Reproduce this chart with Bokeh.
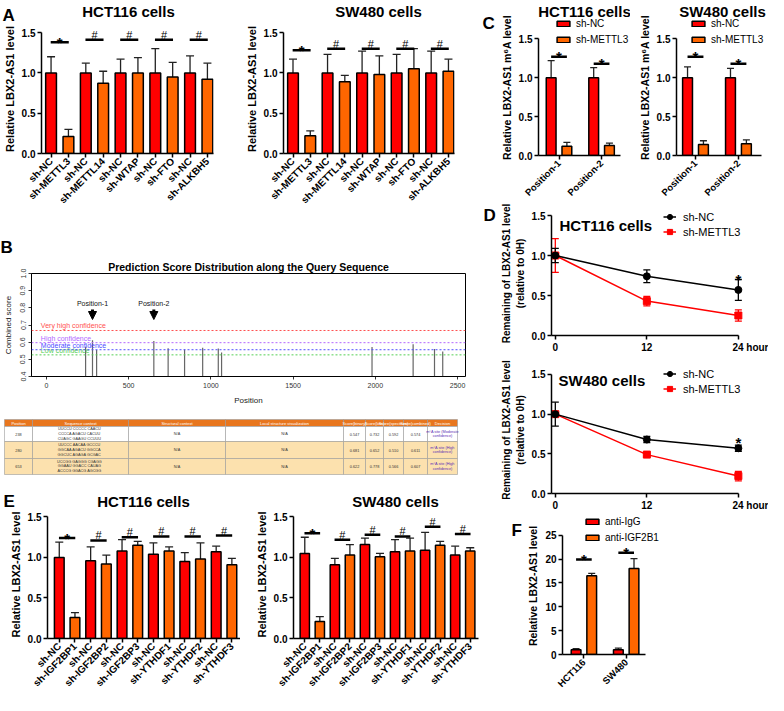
import math
from bokeh.plotting import figure
from bokeh.models import (ColumnDataSource, Range1d, FixedTicker, Whisker, TeeHead, Label,
                          Legend, LegendItem, Span, Arrow, NormalHead, NumeralTickFormatter)
from bokeh.layouts import row, column
from bokeh.embed import file_html
from bokeh.resources import INLINE
from bokeh.core.properties import value

FONT = "Liberation Sans"
RED = "#FF0000"
ORANGE = "#FF6600"
NBSP = "\u00a0"

# ---------------- data ----------------
# Panel A
A_cells = ["HCT116 cells", "SW480 cells"]
A_labels = ["sh-NC", "sh-METTL3", "sh-NC", "sh-METTL14", "sh-NC", "sh-WTAP",
            "sh-NC", "sh-FTO", "sh-NC", "sh-ALKBH5"]
A_hct_mean = [1.00, 0.21, 1.00, 0.87, 1.00, 1.00, 1.00, 0.95, 1.00, 0.92]
A_hct_sd = [0.20, 0.09, 0.12, 0.15, 0.17, 0.19, 0.30, 0.18, 0.21, 0.20]
A_hct_sig_y = [1.38, 1.41, 1.41, 1.41, 1.41]
A_sw_mean = [1.00, 0.22, 1.00, 0.89, 1.00, 0.98, 1.00, 1.05, 1.00, 1.02]
A_sw_sd = [0.17, 0.06, 0.23, 0.08, 0.27, 0.23, 0.23, 0.25, 0.27, 0.15]
A_sw_sig_y = [1.28, 1.30, 1.30, 1.30, 1.30]
A_sig = ["*", "#", "#", "#", "#"]

# Panel B
B_sites = [238, 280, 305, 653, 740, 840, 950, 1045, 1065, 1980, 2230, 2360, 2410]
B_scores = [0.574, 0.611, 0.555, 0.607, 0.565, 0.558, 0.568, 0.563, 0.540,
            0.572, 0.588, 0.560, 0.545]
B_thr_names = ["Very high confidence", "High confidence", "Moderate confidence", "Low confidence"]
B_thr_values = [0.668, 0.597, 0.556, 0.526]
B_thr_colors = ["#ff5050", "#b266ff", "#4d4dff", "#55d055"]
B_marks = ["Position-1", "Position-2"]
B_mark_sites = [280, 653]
B_xticks = [0, 500, 1000, 1500, 2000, 2500]
B_yticks = [0.4, 0.5, 0.6, 0.7, 0.8, 0.9, 1.0]

# Table under panel B
T_headers = ["Position", "Sequence context", "Structural context", "Local structure visualization",
             "Score(binary)", "Score(knn)", "Score(spectrum)", "Score(combined)", "Decision"]
T_pos = ["238", "280", "653"]
T_seq = ["UUCCU  CCCCC  CAACU\nCCCCA  AGACU  CACUU\nCUAGC  GAAGU  CCUUU",
         "UUCCC  AACAA  GCCCU\nGGCAA  AGACU  GGCCA\nGGCUC  AGAGA  GCGAC",
         "UCCGG  GAGGG  CGAGG\nGGAAU  GGACC  CAUAG\nACCCG  GGACG  AGCGG"]
T_struct = ["N/A", "N/A", "N/A"]
T_local = ["N/A", "N/A", "N/A"]
T_binary = ["0.547", "0.681", "0.622"]
T_knn = ["0.732", "0.652", "0.778"]
T_spec = ["0.592", "0.510", "0.566"]
T_comb = ["0.574", "0.611", "0.607"]
T_dec = ["m\u2076A site (Moderate\nconfidence)", "m\u2076A site (High\nconfidence)",
         "m\u2076A site (High\nconfidence)"]

# Panel C
C_cells = ["HCT116 cells", "SW480 cells"]
C_positions = ["Position-1", "Position-2"]
C_series = ["sh-NC", "sh-METTL3"]
C_hct_nc = [1.00, 1.00]
C_hct_nc_sd = [0.22, 0.13]
C_hct_kd = [0.12, 0.13]
C_hct_kd_sd = [0.05, 0.03]
C_hct_sig_y = [1.27, 1.18]
C_sw_nc = [1.00, 1.00]
C_sw_nc_sd = [0.14, 0.12]
C_sw_kd = [0.14, 0.15]
C_sw_kd_sd = [0.05, 0.05]
C_sw_sig_y = [1.27, 1.18]

# Panel D
D_cells = ["HCT116 cells", "SW480 cells"]
D_series = ["sh-NC", "sh-METTL3"]
D_hours = [0, 12, 24]
D_hct_nc = [1.00, 0.74, 0.57]
D_hct_nc_sd = [0.09, 0.08, 0.13]
D_hct_kd = [1.00, 0.43, 0.25]
D_hct_kd_sd = [0.21, 0.06, 0.07]
D_hct_star_y = 0.70
D_sw_nc = [1.00, 0.68, 0.57]
D_sw_nc_sd = [0.15, 0.04, 0.04]
D_sw_kd = [1.00, 0.49, 0.22]
D_sw_kd_sd = [0.02, 0.02, 0.06]
D_sw_star_y = 0.645

# Panel E
E_cells = ["HCT116 cells", "SW480 cells"]
E_labels = ["sh-NC", "sh-IGF2BP1", "sh-NC", "sh-IGF2BP2", "sh-NC", "sh-IGF2BP3",
            "sh-NC", "sh-YTHDF1", "sh-NC", "sh-YTHDF2", "sh-NC", "sh-YTHDF3"]
E_hct_mean = [1.00, 0.26, 0.96, 0.92, 1.08, 1.15, 1.04, 1.08, 0.95, 0.98, 1.07, 0.91]
E_hct_sd = [0.19, 0.06, 0.17, 0.11, 0.14, 0.05, 0.14, 0.05, 0.11, 0.20, 0.07, 0.08]
E_hct_sig_y = [1.24, 1.21, 1.25, 1.26, 1.26, 1.27]
E_sw_mean = [1.05, 0.21, 0.91, 1.03, 1.16, 1.01, 1.07, 1.08, 1.09, 1.15, 1.03, 1.08]
E_sw_sd = [0.20, 0.06, 0.08, 0.13, 0.08, 0.04, 0.15, 0.16, 0.22, 0.05, 0.11, 0.04]
E_sw_sig_y = [1.30, 1.22, 1.28, 1.26, 1.38, 1.29]
E_sig = ["*", "#", "#", "#", "#", "#"]

# Panel F
F_cells = ["HCT116", "SW480"]
F_series = ["anti-IgG", "anti-IGF2B1"]
F_igg = [1.0, 1.0]
F_igg_sd = [0.2, 0.35]
F_igf = [16.5, 18.0]
F_igf_sd = [0.5, 2.1]
F_sig_y = [19.9, 21.3]

Y_TICKS_REL = [0, 0.5, 1.0, 1.5]
F_TICKS = [0, 5, 10, 15, 20, 25]


# ---------------- helpers ----------------
def no_align(p):
    try:
        p.frame_align = False
    except Exception:
        pass


def make_fig(w, h, xr, yr, fl, fr, ft, fb, title=None):
    p = figure(width=w, height=h, x_range=Range1d(*xr), y_range=Range1d(*yr),
               output_backend="svg", toolbar_location=None, tools="", title=title,
               min_border_left=fl, min_border_right=fr, min_border_top=ft, min_border_bottom=fb)
    p.xgrid.visible = False
    p.ygrid.visible = False
    p.outline_line_color = None
    p.background_fill_color = "white"
    p.border_fill_color = "white"
    no_align(p)
    return p


def strip(w, h, texts):
    """texts: list of (x, y_center, text, size, align) in pixels from the strip's top-left"""
    p = make_fig(w, h, (0, w), (h, 0), 0, 0, 0, 0)
    p.axis.visible = False
    for x, y, t, size, align in texts:
        p.text(x=[x], y=[y], text=[t], text_font=value(FONT), text_font_style="bold",
               text_font_size=size, text_align=align, text_baseline="middle",
               text_color="black")
    return p


def set_title(p, size="15px", offset=0, standoff=0):
    p.title.text_font = FONT
    p.title.text_font_style = "bold"
    p.title.text_font_size = size
    p.title.align = "center"
    p.title.offset = offset
    p.title.standoff = standoff
    p.title.text_color = "black"


def style_axes(p, tick_size="10px", label_size="11px"):
    for ax in p.axis:
        ax.axis_line_color = "black"
        ax.axis_line_width = 1.5
        ax.major_tick_line_color = "black"
        ax.major_tick_line_width = 1.5
        ax.major_tick_out = 4
        ax.major_tick_in = 0
        ax.minor_tick_line_color = None
        ax.major_label_text_font = FONT
        ax.major_label_text_font_style = "bold"
        ax.major_label_text_font_size = tick_size
        ax.major_label_text_color = "black"
        ax.major_label_standoff = 2
        ax.axis_label_text_font = FONT
        ax.axis_label_text_font_style = "bold"
        ax.axis_label_text_font_size = label_size
        ax.axis_label_text_color = "black"
        ax.axis_label_standoff = 3


def sig_marks(p, xs, ys, marks):
    st = [i for i, m in enumerate(marks) if m == "*"]
    hs = [i for i, m in enumerate(marks) if m == "#"]
    if st:
        p.text(x=[xs[i] for i in st], y=[ys[i] for i in st], text=[marks[i] for i in st],
               text_font=value(FONT), text_font_style="bold", text_font_size="15px",
               text_align="center", text_baseline="alphabetic", y_offset=0, text_color="black")
    if hs:
        p.text(x=[xs[i] for i in hs], y=[ys[i] for i in hs], text=[marks[i] for i in hs],
               text_font=value(FONT), text_font_size="11px",
               text_align="center", text_baseline="alphabetic", y_offset=-5, text_color="black")


def bar_panel(labels, means, sds, sig_y, marks, w, h, fl, fr, ft, fb, xr, yr):
    n = len(labels)
    xs = list(range(n))
    p = make_fig(w, h, xr, yr, fl, fr, ft, fb)
    src = ColumnDataSource(dict(x=xs, top=means, upper=[m + s for m, s in zip(means, sds)],
                                color=[RED if i % 2 == 0 else ORANGE for i in xs]))
    p.add_layout(Whisker(source=src, base="x", lower="top", upper="upper", dimension="height",
                         line_color="#222222", line_width=1.3, lower_head=None,
                         upper_head=TeeHead(size=8, line_color="#222222", line_width=1.3)))
    p.vbar(x="x", top="top", bottom=0, width=0.62, fill_color="color", line_color="black",
           line_width=1.5, source=src)
    gx = [2 * i + 0.5 for i in range(len(sig_y))]
    p.segment(x0=[g - 0.52 for g in gx], y0=sig_y, x1=[g + 0.52 for g in gx], y1=sig_y,
              line_color="black", line_width=2.5)
    sig_marks(p, gx, sig_y, marks)
    p.xaxis.ticker = FixedTicker(ticks=xs)
    p.xaxis.major_label_overrides = {i: lab for i, lab in enumerate(labels)}
    p.xaxis.major_label_orientation = math.pi / 4
    p.yaxis.ticker = FixedTicker(ticks=Y_TICKS_REL)
    p.yaxis.formatter = NumeralTickFormatter(format="0.0")
    p.yaxis.bounds = (0, 1.5)
    p.yaxis.axis_label = "Relative LBX2-AS1 level"
    style_axes(p)
    return p


def group_panel(cats, series, nc, nc_sd, kd, kd_sd, sig_y, title, w, h, fl, fr, ft, fb, xr, xb,
                yr, toff, yticks, fmt, ylabel, yb, leg_loc):
    xs = [i + 1 for i in range(len(cats))]
    p = make_fig(w, h, xr, yr, fl, fr, ft, fb, title=title)
    if title:
        set_title(p, offset=toff)
    off = 0.185
    s1 = ColumnDataSource(dict(x=[x - off for x in xs], top=nc,
                               upper=[m + s for m, s in zip(nc, nc_sd)]))
    s2 = ColumnDataSource(dict(x=[x + off for x in xs], top=kd,
                               upper=[m + s for m, s in zip(kd, kd_sd)]))
    for s in (s1, s2):
        p.add_layout(Whisker(source=s, base="x", lower="top", upper="upper", dimension="height",
                             line_color="#222222", line_width=1.3, lower_head=None,
                             upper_head=TeeHead(size=7, line_color="#222222", line_width=1.3)))
    r1 = p.vbar(x="x", top="top", bottom=0, width=0.23, fill_color=RED, line_color="black",
                line_width=1.5, source=s1)
    r2 = p.vbar(x="x", top="top", bottom=0, width=0.23, fill_color=ORANGE, line_color="black",
                line_width=1.5, source=s2)
    p.segment(x0=[x - off for x in xs], y0=sig_y, x1=[x + off for x in xs], y1=sig_y,
              line_color="black", line_width=2.5)
    sig_marks(p, xs, sig_y, ["*"] * len(xs))
    leg = Legend(items=[LegendItem(label=value(series[0]), renderers=[r1]),
                        LegendItem(label=value(series[1]), renderers=[r2])],
                 location=leg_loc, orientation="vertical", padding=0, margin=0, spacing=3,
                 glyph_width=16, glyph_height=7, label_height=13, label_standoff=5,
                 label_text_font=FONT, label_text_font_size="10px", label_text_color="black",
                 border_line_color=None, background_fill_alpha=0)
    p.add_layout(leg)
    p.xaxis.ticker = FixedTicker(ticks=xs)
    p.xaxis.major_label_overrides = {x: c for x, c in zip(xs, cats)}
    p.xaxis.major_label_orientation = math.pi / 4
    p.xaxis.bounds = xb
    p.yaxis.ticker = FixedTicker(ticks=yticks)
    p.yaxis.formatter = NumeralTickFormatter(format=fmt)
    p.yaxis.bounds = yb
    p.yaxis.axis_label = ylabel
    style_axes(p, tick_size="10px", label_size="10.5px")
    p.xaxis.major_label_text_font_size = "9.5px"
    return p


def line_panel(t, nc, nc_sd, kd, kd_sd, star_y, cell, w, h, fl, fr, ft, fb, xr, yr,
               leg_loc, title_xy):
    p = make_fig(w, h, xr, yr, fl, fr, ft, fb)
    s_nc = ColumnDataSource(dict(x=t, y=nc, lo=[m - s for m, s in zip(nc, nc_sd)],
                                 hi=[m + s for m, s in zip(nc, nc_sd)]))
    s_kd = ColumnDataSource(dict(x=t, y=kd, lo=[m - s for m, s in zip(kd, kd_sd)],
                                 hi=[m + s for m, s in zip(kd, kd_sd)]))
    for s, c in ((s_kd, RED), (s_nc, "black")):
        p.add_layout(Whisker(source=s, base="x", lower="lo", upper="hi", dimension="height",
                             line_color=c, line_width=1.3,
                             lower_head=TeeHead(size=7, line_color=c, line_width=1.3),
                             upper_head=TeeHead(size=7, line_color=c, line_width=1.3)))
    l2 = p.line("x", "y", source=s_kd, line_color=RED, line_width=1.5)
    m2 = p.scatter("x", "y", source=s_kd, marker="square", size=7, fill_color=RED, line_color=RED)
    l1 = p.line("x", "y", source=s_nc, line_color="black", line_width=1.5)
    m1 = p.scatter("x", "y", source=s_nc, marker="circle", size=7, fill_color="black",
                   line_color="black")
    p.text(x=[t[-1]], y=[star_y], text=["*"], text_font=value(FONT), text_font_style="bold",
           text_font_size="15px", text_align="center", text_baseline="alphabetic",
           text_color="black")
    leg = Legend(items=[LegendItem(label=value(D_series[0]), renderers=[l1, m1]),
                        LegendItem(label=value(D_series[1]), renderers=[l2, m2])],
                 location=leg_loc, orientation="vertical", padding=0, margin=0, spacing=2,
                 glyph_width=13, glyph_height=13, label_height=13, label_standoff=7,
                 label_text_font=FONT, label_text_font_size="11px", label_text_color="black",
                 border_line_color=None, background_fill_alpha=0)
    p.add_layout(leg)
    p.add_layout(Label(x=title_xy[0], y=title_xy[1], x_units="screen", y_units="screen",
                       text=cell, text_font=FONT, text_font_style="bold", text_font_size="15px",
                       text_baseline="middle", text_color="black"))
    p.xaxis.ticker = FixedTicker(ticks=t)
    p.xaxis.major_label_overrides = {t[-1]: NBSP * 9 + str(t[-1]) + " hour"}
    p.xaxis.bounds = (xr[0], t[-1])
    p.yaxis.ticker = FixedTicker(ticks=Y_TICKS_REL)
    p.yaxis.formatter = NumeralTickFormatter(format="0.0")
    p.yaxis.bounds = (0, 1.5)
    p.yaxis.axis_label = "Remaining of LBX2-AS1 level\n(relative to 0H)"
    style_axes(p, tick_size="10px", label_size="10px")
    return p


# ---------------- Panel A ----------------
stripA = strip(480, 24, [(2, 15, "A", "17px", "left"),
                         (128, 11, A_cells[0], "15px", "center"),
                         (378, 11, A_cells[1], "15px", "center")])
pA1 = bar_panel(A_labels, A_hct_mean, A_hct_sd, A_hct_sig_y, A_sig,
                240, 192, 39, 27, 0, 63, (-0.55, 9.35), (0, 1.6))
pA2 = bar_panel(A_labels, A_sw_mean, A_sw_sd, A_sw_sig_y, A_sig,
                240, 192, 43, 26, 0, 63, (-0.55, 9.35), (0, 1.6))

# ---------------- Panel B ----------------
stripB = strip(480, 42, [(0, 31, "B", "17px", "left")])
pB = make_fig(480, 156, (-91, 2548.5), (0.4, 1.0), 30, 15, 14, 38,
              title="Prediction Score Distribution along the Query Sequence")
set_title(pB, size="10.5px", standoff=1)
pB.outline_line_color = "black"
pB.outline_line_width = 1
for v, c in zip(B_thr_values, B_thr_colors):
    pB.add_layout(Span(location=v, dimension="width", line_color=c, line_dash="2 2",
                       line_width=1))
pB.segment(x0=B_sites, y0=[B_yticks[0]] * len(B_sites), x1=B_sites, y1=B_scores,
           line_color="#666666", line_width=1.2)
pB.text(x=[-34] * len(B_thr_names), y=B_thr_values, text=B_thr_names, text_color=B_thr_colors,
        text_font=value(FONT), text_font_size="7px", text_baseline="bottom", y_offset=-1)
pB.text(x=B_mark_sites, y=[0.825] * len(B_mark_sites), text=B_marks, text_font=value(FONT),
        text_font_size="7px", text_align="center", text_baseline="middle", text_color="#111111")
for xm in B_mark_sites:
    pB.add_layout(Arrow(end=NormalHead(size=8, fill_color="black", line_color="black"),
                        x_start=xm, y_start=0.79, x_end=xm, y_end=0.732,
                        line_width=3, line_color="black"))
pB.xaxis.ticker = FixedTicker(ticks=B_xticks)
pB.xaxis.bounds = (B_xticks[0], B_xticks[-1])
pB.yaxis.ticker = FixedTicker(ticks=B_yticks)
pB.yaxis.formatter = NumeralTickFormatter(format="0.0")
pB.yaxis.major_label_orientation = "vertical"
pB.xaxis.axis_label = "Position"
pB.yaxis.axis_label = "Combined score"
for ax in pB.axis:
    ax.axis_line_width = 0.8
    ax.major_tick_line_width = 0.8
    ax.major_tick_out = 3
    ax.major_tick_in = 0
    ax.minor_tick_line_color = None
    ax.major_label_text_font = FONT
    ax.major_label_text_font_size = "7px"
    ax.major_label_text_color = "#333333"
    ax.major_label_standoff = 3
    ax.axis_label_text_font = FONT
    ax.axis_label_text_font_style = "normal"
    ax.axis_label_text_font_size = "8px"
    ax.axis_label_text_color = "#222222"
    ax.axis_label_standoff = 5

# table
T_cols = [4, 32, 128, 225, 343, 365, 383, 403, 427, 457]
T_rows = [5, 12, 27, 44, 60]
T_fills = ["#E8761E", "#FFFFFF", "#FCE1AE", "#FCE1AE"]
pT = make_fig(480, 63, (0, 480), (63, 0), 0, 0, 0, 0)
pT.axis.visible = False
ql, qr, qt, qb, qf = [], [], [], [], []
for r in range(4):
    for c in range(9):
        ql.append(T_cols[c]); qr.append(T_cols[c + 1])
        qt.append(T_rows[r]); qb.append(T_rows[r + 1]); qf.append(T_fills[r])
pT.quad(left=ql, right=qr, top=qt, bottom=qb, fill_color=qf, line_color="#9a9a9a",
        line_width=0.6)
cx = [(T_cols[c] + T_cols[c + 1]) / 2 for c in range(9)]
pT.text(x=cx, y=[(T_rows[0] + T_rows[1]) / 2] * 9, text=T_headers, text_font=value(FONT),
        text_font_size="4px", text_color="white", text_align="center", text_baseline="middle")
body_cols = [T_pos, T_seq, T_struct, T_local, T_binary, T_knn, T_spec, T_comb]
bx, by, bt = [], [], []
for c, col in enumerate(body_cols):
    for r, txt in enumerate(col):
        bx.append(cx[c]); by.append((T_rows[r + 1] + T_rows[r + 2]) / 2); bt.append(txt)
pT.text(x=bx, y=by, text=bt, text_font=value(FONT), text_font_size="3.8px",
        text_color="#333333", text_align="center", text_baseline="middle", text_line_height=1.15)
pT.text(x=[cx[8]] * 3, y=[(T_rows[r + 1] + T_rows[r + 2]) / 2 for r in range(3)], text=T_dec,
        text_font=value(FONT), text_font_size="3.8px", text_color="#5b2fb5",
        text_align="center", text_baseline="middle", text_line_height=1.15)

# ---------------- Panel E ----------------
stripE = strip(480, 33, [(3, 23.5, "E", "17px", "left"),
                         (143, 23.5, E_cells[0], "15px", "center"),
                         (395, 23.5, E_cells[1], "15px", "center")])
pE1 = bar_panel(E_labels, E_hct_mean, E_hct_sd, E_hct_sig_y, E_sig,
                240, 185, 47, 0, 0, 56, (-0.75, 11.55), (0, 1.58))
pE2 = bar_panel(E_labels, E_sw_mean, E_sw_sd, E_sw_sig_y, E_sig,
                240, 185, 53, 2, 0, 56, (-0.75, 11.55), (0, 1.58))

# ---------------- Panel C ----------------
C_ylabel = "Relative LBX2-AS1 m\u2076A level"
stripC = strip(16, 204, [(2, 23, "C", "17px", "left")])
pC1 = group_panel(C_positions, C_series, C_hct_nc, C_hct_nc_sd, C_hct_kd, C_hct_kd_sd,
                  C_hct_sig_y, C_cells[0], 134, 204, 42, 0, 19, 45, (0.518, 2.68),
                  (0.518, 2.45), (0, 1.75), 0, Y_TICKS_REL, "0.0", C_ylabel, (0, 1.5),
                  (17, 109.5))
pC2 = group_panel(C_positions, C_series, C_sw_nc, C_sw_nc_sd, C_sw_kd, C_sw_kd_sd,
                  C_sw_sig_y, C_cells[1], 138, 204, 46, 0, 19, 45, (0.558, 2.70),
                  (0.558, 2.53), (0, 1.75), -9, Y_TICKS_REL, "0.0", C_ylabel, (0, 1.5),
                  (14, 109.5))

# ---------------- Panel D ----------------
stripD = strip(18, 151, [(3, 11, "D", "17px", "left")])
pD1 = line_panel(D_hours, D_hct_nc, D_hct_nc_sd, D_hct_kd, D_hct_kd_sd, D_hct_star_y,
                 D_cells[0], 270, 151, 53, 21, 7, 18, (-0.5, 25.2), (0, 1.55),
                 (112, 97), (8, 110))
pD2 = line_panel(D_hours, D_sw_nc, D_sw_nc_sd, D_sw_kd, D_sw_kd_sd, D_sw_star_y,
                 D_cells[1], 288, 158, 71, 21, 11, 18, (-0.5, 25.2), (0, 1.6),
                 (112, 98), (7, 113))

# ---------------- Panel F ----------------
stripF = strip(44, 182, [(31, 17, "F", "17px", "left")])
pF = group_panel(F_cells, F_series, F_igg, F_igg_sd, F_igf, F_igf_sd, F_sig_y, None,
                 244, 182, 35, 103, 4, 39, (0.494, 2.93), (0.494, 2.45), (0, 28.7), 0,
                 F_TICKS, "0", "Relative LBX2-AS1 level", (0, 25), (22, 110.5))

left = column(row(stripA), row(pA1, pA2), row(stripB), row(pB), row(pT), row(stripE),
              row(pE1, pE2))
right = column(row(stripC, pC1, pC2), row(stripD, pD1), row(pD2), row(stripF, pF))
layout = row(left, right)

open("out.html", "w").write(file_html(layout, INLINE))
